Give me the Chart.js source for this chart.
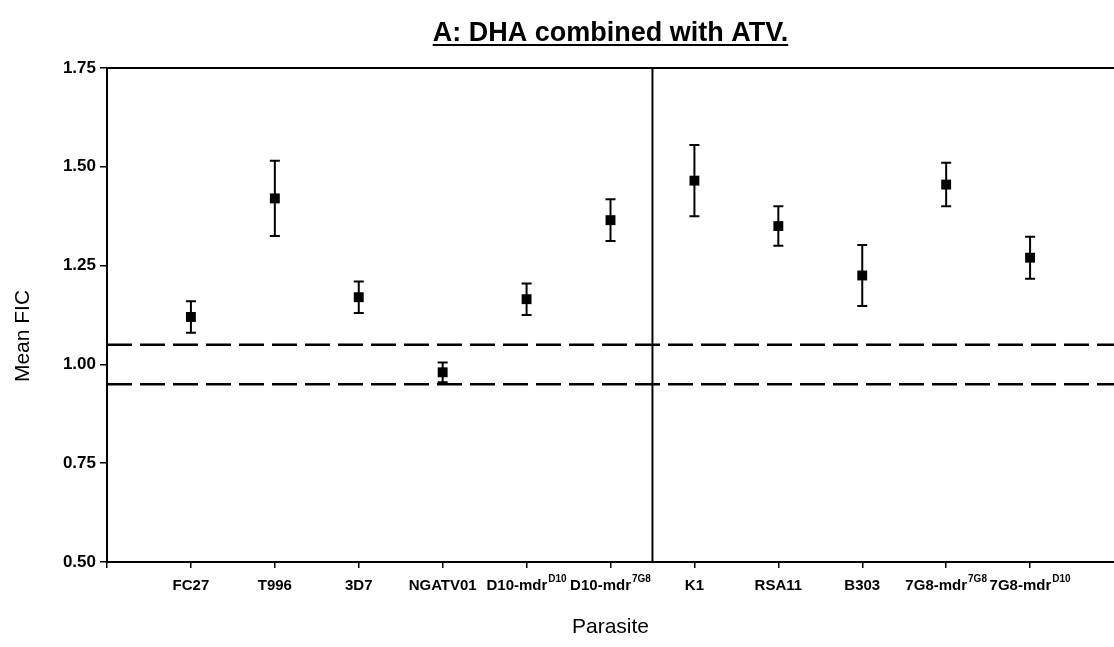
<!DOCTYPE html>
<html>
<head>
<meta charset="utf-8">
<title>DHA combined with ATV</title>
<script src="https://cdn.jsdelivr.net/npm/chart.js@4.4.1/dist/chart.umd.min.js"></script>
<style>
    html, body { margin: 0; padding: 0; background: #fff; overflow: hidden; }
    #wrap { position: relative; width: 1121px; height: 647px; }
</style>
</head>
<body>
<div id="wrap"><canvas id="ficChart"></canvas></div>
<script>
// parasite lines, label superscripts, mean FIC and error
const parasites = ['FC27', 'T996', '3D7', 'NGATV01', 'D10-mdr', 'D10-mdr', 'K1', 'RSA11', 'B303', '7G8-mdr', '7G8-mdr'];
const superscripts = ['', '', '', '', 'D10', '7G8', '', '', '', '7G8', 'D10'];
const meanFIC = [1.12, 1.42, 1.17, 0.98, 1.165, 1.365, 1.465, 1.35, 1.225, 1.455, 1.27];
const errFIC = [0.04, 0.095, 0.04, 0.025, 0.04, 0.053, 0.09, 0.05, 0.077, 0.055, 0.053];
const refLines = [0.95, 1.05];
const yTicks = [0.50, 0.75, 1.00, 1.25, 1.50, 1.75];
const groupSplit = 6;   // divider sits after the sixth parasite

const FONT = '"Liberation Sans", Arial, sans-serif';

// frame, divider, dashed reference lines, error bars and the text
const ficDecor = {
    id: 'ficDecor',
    beforeDatasetsDraw(chart) {
        const { ctx, chartArea: a, scales: { x, y } } = chart;
        ctx.save();
        ctx.strokeStyle = '#000';

        // top frame line
        ctx.lineWidth = 2;
        ctx.beginPath();
        ctx.moveTo(a.left, a.top);
        ctx.lineTo(a.right, a.top);
        ctx.stroke();

        // divider between the two groups
        const xs = x.getPixelForValue(groupSplit + 0.5);
        ctx.lineWidth = 2;
        ctx.beginPath();
        ctx.moveTo(xs, a.top);
        ctx.lineTo(xs, a.bottom);
        ctx.stroke();

        // dashed lines at 0.95 and 1.05
        ctx.lineWidth = 2.5;
        ctx.setLineDash([25, 8]);
        refLines.forEach(v => {
            const py = y.getPixelForValue(v);
            ctx.beginPath();
            ctx.moveTo(a.left, py);
            ctx.lineTo(a.right, py);
            ctx.stroke();
        });
        ctx.setLineDash([]);

        // error bars
        ctx.lineWidth = 2;
        meanFIC.forEach((m, i) => {
            const px = x.getPixelForValue(i + 1);
            const top = y.getPixelForValue(m + errFIC[i]);
            const bot = y.getPixelForValue(m - errFIC[i]);
            ctx.beginPath();
            ctx.moveTo(px, top);
            ctx.lineTo(px, bot);
            ctx.moveTo(px - 5, top);
            ctx.lineTo(px + 5, top);
            ctx.moveTo(px - 5, bot);
            ctx.lineTo(px + 5, bot);
            ctx.stroke();
        });
        ctx.restore();
    },
    afterDraw(chart) {
        const { ctx, chartArea: a, scales: { x } } = chart;
        const cx = (a.left + a.right) / 2;
        ctx.save();
        ctx.fillStyle = '#000';
        ctx.strokeStyle = '#000';

        // title, underlined
        const title = 'A: DHA combined with ATV.';
        ctx.font = 'bold 27px ' + FONT;
        ctx.textAlign = 'center';
        ctx.textBaseline = 'alphabetic';
        ctx.fillText(title, cx, 41);
        const tw = ctx.measureText(title).width;
        ctx.lineWidth = 2;
        ctx.beginPath();
        ctx.moveTo(cx - tw / 2, 45);
        ctx.lineTo(cx + tw / 2, 45);
        ctx.stroke();

        // category labels with superscripts
        ctx.textAlign = 'left';
        parasites.forEach((name, i) => {
            const px = x.getPixelForValue(i + 1);
            ctx.font = 'bold 15px ' + FONT;
            const w1 = ctx.measureText(name).width;
            ctx.font = 'bold 10px ' + FONT;
            const w2 = superscripts[i] ? ctx.measureText(superscripts[i]).width + 1 : 0;
            const left = px - (w1 + w2) / 2;
            ctx.font = 'bold 15px ' + FONT;
            ctx.fillText(name, left, a.bottom + 28);
            if (superscripts[i]) {
                ctx.font = 'bold 10px ' + FONT;
                ctx.fillText(superscripts[i], left + w1 + 1, a.bottom + 20);
            }
        });

        // axis titles
        ctx.font = '21px ' + FONT;
        ctx.textAlign = 'center';
        ctx.fillText('Parasite', cx, a.bottom + 71);

        ctx.translate(29, 336);
        ctx.rotate(-Math.PI / 2);
        ctx.fillText('Mean FIC', 0, 0);
        ctx.restore();
    }
};

const ctx = document.getElementById('ficChart');
new Chart(ctx.getContext('2d'), {
    type: 'scatter',
    data: {
        datasets: [{
            label: 'Mean FIC',
            data: meanFIC.map((v, i) => ({ x: i + 1, y: v })),
            pointStyle: 'rect',
            pointRadius: 7,
            pointHoverRadius: 7,
            backgroundColor: '#000',
            borderColor: '#000',
            borderWidth: 0
        }]
    },
    options: {
        responsive: true,
        maintainAspectRatio: false,
        animation: false,
        layout: { padding: { top: 68, right: 0, bottom: 0, left: 0 } },
        plugins: {
            legend: { display: false },
            tooltip: { enabled: false }
        },
        scales: {
            x: {
                type: 'linear',
                min: 0,
                max: parasites.length + 1,
                // tick marks at the axis origin and under each parasite
                afterBuildTicks: s => { s.ticks = Array.from({ length: parasites.length + 1 }, (_, i) => ({ value: i })); },
                afterFit: s => { s.height = 85; },
                ticks: { display: false },
                grid: { drawOnChartArea: false, drawTicks: true, tickLength: 6, color: '#000', lineWidth: 1.5 },
                border: { color: '#000', width: 2 }
            },
            y: {
                min: 0.5,
                max: 1.75,
                afterBuildTicks: s => { s.ticks = yTicks.map(v => ({ value: v })); },
                afterFit: s => { s.width = 107; },
                ticks: {
                    color: '#000',
                    padding: 4,
                    font: { family: FONT, size: 17, weight: 'bold' },
                    callback: v => v.toFixed(2)
                },
                grid: { drawOnChartArea: false, drawTicks: true, tickLength: 7, color: '#000', lineWidth: 1.5 },
                border: { color: '#000', width: 2 }
            }
        }
    },
    plugins: [ficDecor]
});
</script>
</body>
</html>
